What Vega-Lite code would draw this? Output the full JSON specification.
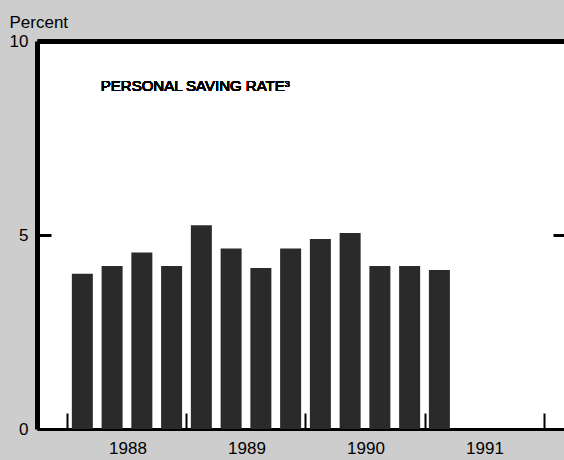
{
  "$schema": "https://vega.github.io/schema/vega-lite/v6.json",
  "autosize": "none",
  "width": 527,
  "height": 388,
  "padding": {"left": 37, "top": 41, "right": 0, "bottom": 31},
  "background": "#cdcdcd",
  "config": {"view": {"fill": "white", "stroke": null}, "font": "Liberation Sans"},
  "data": {"values": [
    {"quarter": "1988 Q1", "t": 1988.125, "rate": 4.0},
    {"quarter": "1988 Q2", "t": 1988.375, "rate": 4.2},
    {"quarter": "1988 Q3", "t": 1988.625, "rate": 4.55},
    {"quarter": "1988 Q4", "t": 1988.875, "rate": 4.2},
    {"quarter": "1989 Q1", "t": 1989.125, "rate": 5.25},
    {"quarter": "1989 Q2", "t": 1989.375, "rate": 4.65},
    {"quarter": "1989 Q3", "t": 1989.625, "rate": 4.15},
    {"quarter": "1989 Q4", "t": 1989.875, "rate": 4.65},
    {"quarter": "1990 Q1", "t": 1990.125, "rate": 4.9},
    {"quarter": "1990 Q2", "t": 1990.375, "rate": 5.05},
    {"quarter": "1990 Q3", "t": 1990.625, "rate": 4.2},
    {"quarter": "1990 Q4", "t": 1990.875, "rate": 4.2},
    {"quarter": "1991 Q1", "t": 1991.125, "rate": 4.1}
  ]},
  "resolve": {"axis": {"x": "independent", "y": "independent"}},
  "layer": [
    {
      "mark": {"type": "bar", "size": 21, "color": "#2a2a2a"},
      "encoding": {
        "x": {
          "field": "t", "type": "quantitative",
          "scale": {"domain": [1987.786, 1992.13], "nice": false, "zero": false},
          "axis": {
            "values": [1988, 1989, 1990, 1991, 1992],
            "format": "d",
            "labelExpr": "datum.value < 1992 ? datum.label : ''",
            "labelOffset": 60,
            "tickSize": -16, "tickColor": "black", "tickWidth": 2,
            "domainColor": "black", "domainWidth": 3,
            "labelFontSize": 17, "labelColor": "black", "labelPadding": 27,
            "grid": false, "title": null
          }
        },
        "y": {
          "field": "rate", "type": "quantitative",
          "scale": {"domain": [0, 10], "nice": false},
          "axis": {
            "values": [0, 5, 10],
            "tickSize": -14, "tickColor": "black", "tickWidth": 3,
            "domainColor": "black", "domainWidth": 5,
            "labelFontSize": 17, "labelColor": "black", "labelPadding": 23,
            "grid": false,
            "title": "Percent", "titleAngle": 0, "titleFontSize": 17, "titleFontWeight": "normal",
            "titleColor": "black", "titleAlign": "left", "titleBaseline": "alphabetic",
            "titleX": -28, "titleY": -14
          }
        }
      }
    },
    {
      "mark": {"type": "text", "align": "left", "baseline": "alphabetic", "fontSize": 15, "color": "black"},
      "encoding": {
        "x": {
          "datum": 1988.28, "type": "quantitative",
          "axis": {"orient": "top", "labels": false, "ticks": false, "grid": false, "title": null, "domainColor": "black", "domainWidth": 5}
        },
        "y": {
          "datum": 8.72, "type": "quantitative",
          "axis": {"orient": "right", "values": [5], "labels": false, "tickSize": -11, "tickColor": "black", "tickWidth": 3, "domain": false, "grid": false, "title": null}
        },
        "text": {"value": "PERSONAL SAVING RATE³"}
      }
    }
  ]
}
